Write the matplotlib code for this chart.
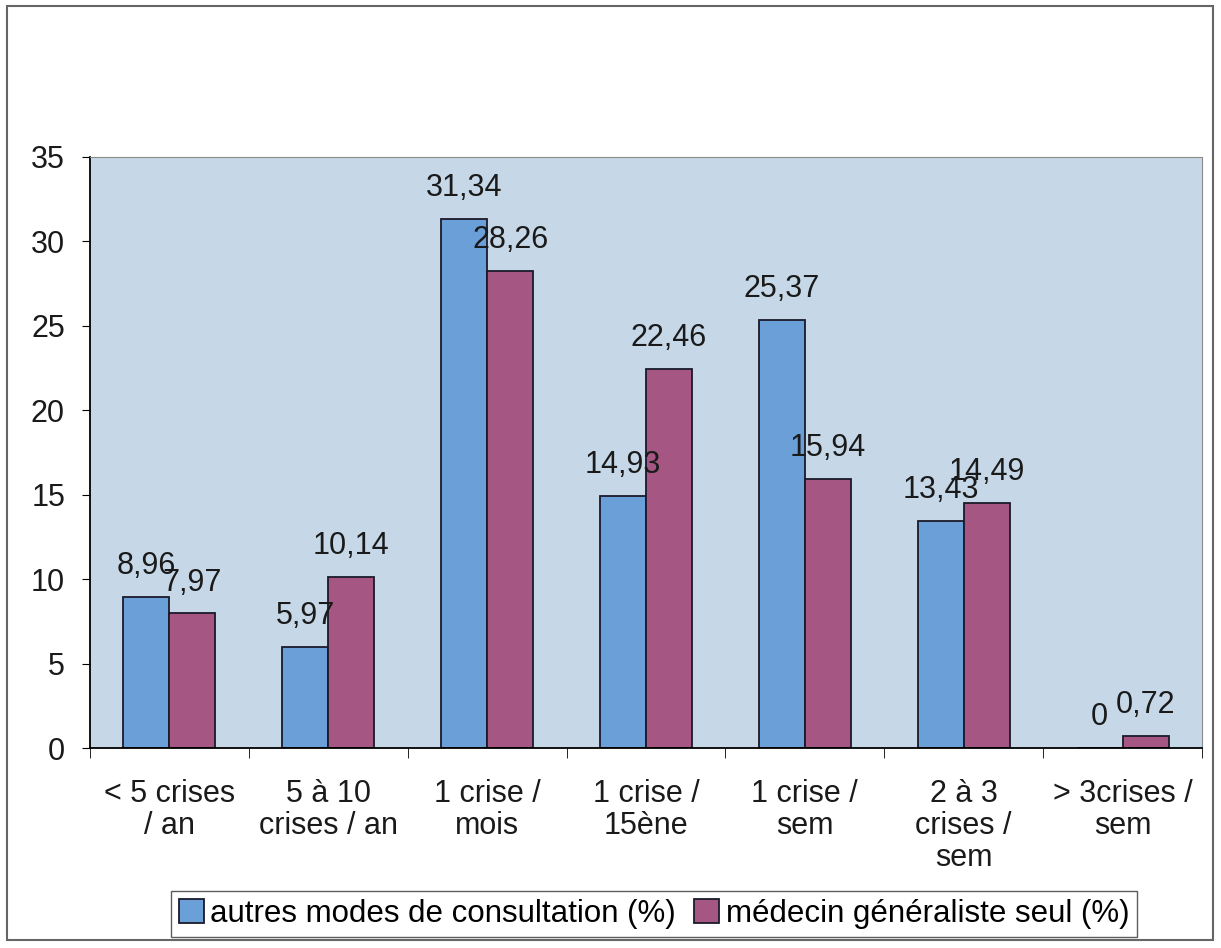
import numpy as np
import matplotlib.pyplot as plt
from matplotlib.patches import Rectangle

plt.rcParams['font.family'] = ['Liberation Sans', 'DejaVu Sans']

categories = ["< 5 crises\n/ an", "5 à 10\ncrises / an", "1 crise /\nmois",
              "1 crise /\n15ène", "1 crise /\nsem", "2 à 3\ncrises /\nsem",
              "> 3crises /\nsem"]
autres = [8.96, 5.97, 31.34, 14.93, 25.37, 13.43, 0]
generaliste = [7.97, 10.14, 28.26, 22.46, 15.94, 14.49, 0.72]
series_names = ["autres modes de consultation (%)", "médecin généraliste seul (%)"]

W, H = 1221, 948
fig = plt.figure(figsize=(W / 100, H / 100), dpi=100)
fig.patches.append(Rectangle((7 / W, 8 / H), 1206 / W, 934 / H,
                             transform=fig.transFigure, fill=False,
                             edgecolor='#666666', lw=1.5))

ax = fig.add_axes([90 / W, 1 - 748 / H, 1112 / W, 591 / H])
ax.set_facecolor('#c6d8e8')

x = np.arange(len(categories))
w = 0.29
b1 = ax.bar(x - w / 2, autres, w, color='#6a9fd8', edgecolor='#1a1a2a', lw=1.3,
            label=series_names[0])
b2 = ax.bar(x + w / 2, generaliste, w, color='#a65683', edgecolor='#1a1a2a', lw=1.3,
            label=series_names[1])

def fmt(v):
    s = ('%.2f' % v).rstrip('0').rstrip('.')
    return s.replace('.', ',')

for bars, vals in ((b1, autres), (b2, generaliste)):
    for rect, v in zip(bars, vals):
        ax.annotate(fmt(v), (rect.get_x() + rect.get_width() / 2, v),
                    xytext=(0, 16.5), textcoords='offset points',
                    ha='center', va='baseline', fontsize=22, color='#1a1a1a')

ax.set_xlim(-0.5, len(categories) - 0.5)
ax.set_ylim(0, 35)
ax.set_yticks(range(0, 36, 5))
ax.tick_params(axis='y', labelsize=22, direction='out', length=6, pad=12,
               labelcolor='#1a1a1a')
ax.set_xticks(x)
ax.set_xticklabels(categories, fontsize=22, linespacing=1.1, color='#1a1a1a')
ax.tick_params(axis='x', length=0, pad=22)
ax.set_xticks(np.arange(-0.5, len(categories), 1), minor=True)
ax.tick_params(axis='x', which='minor', length=7, direction='out')

for s in ('top', 'right'):
    ax.spines[s].set_color('#8a8a8a')
    ax.spines[s].set_linestyle((0, (3, 1)))
ax.spines['left'].set_color('black')
ax.spines['bottom'].set_color('black')
ax.spines['left'].set_linewidth(1.3)
ax.spines['bottom'].set_linewidth(1.3)

fig.legend(handles=[b1, b2], loc='center', bbox_to_anchor=(654 / W, 1 - 914 / H),
           ncol=2, fontsize=22.5, frameon=True, fancybox=False, edgecolor='#333333',
           handlelength=0.8, handleheight=0.8, handletextpad=0.2, columnspacing=0.6,
           borderpad=0.25, borderaxespad=0)

fig.savefig('out.png', dpi=100)
